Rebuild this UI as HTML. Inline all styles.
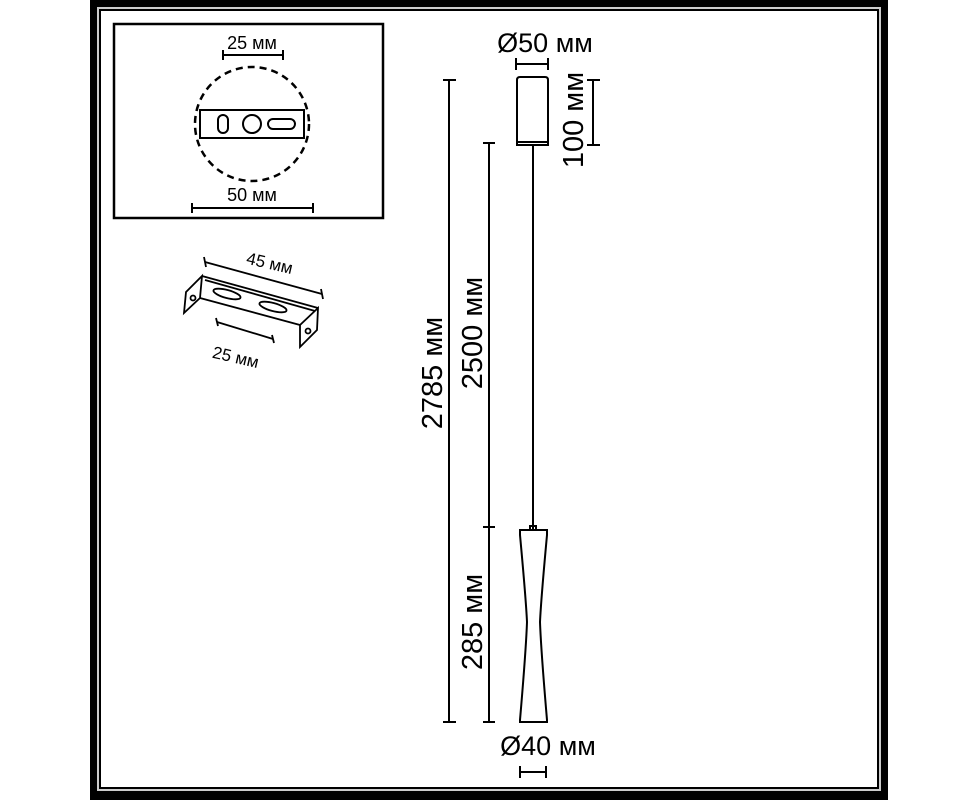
<!DOCTYPE html>
<html><head><meta charset="utf-8"><style>
html,body{margin:0;padding:0;background:#fff;}
svg{display:block}
text{font-family:"Liberation Sans","DejaVu Sans",sans-serif;fill:#000}
</style></head><body>
<svg width="978" height="800" viewBox="0 0 978 800" xmlns="http://www.w3.org/2000/svg">
<rect x="0" y="0" width="978" height="800" fill="#fff"/>
<rect x="90" y="0" width="798" height="800" fill="#000"/>
<rect x="97" y="7" width="784" height="784" fill="#ccc"/>
<rect x="99" y="9" width="780" height="780" fill="#000"/>
<rect x="101" y="11" width="776" height="776" fill="#fff"/>

<g stroke="#000" fill="none" stroke-width="2">
<rect x="114" y="24" width="269" height="194" stroke-width="2.5"/>
<line x1="223" y1="55" x2="283" y2="55"/><line x1="223" y1="50" x2="223" y2="60"/><line x1="283" y1="50" x2="283" y2="60"/>
<circle cx="252" cy="124" r="57" stroke-dasharray="7,5" stroke-width="2.5"/>
<rect x="200" y="110" width="104" height="28" fill="#fff"/>
<rect x="218" y="115" width="10" height="18" rx="5"/>
<circle cx="252" cy="124" r="9"/>
<rect x="268" y="119" width="27" height="10" rx="5"/>
<line x1="192" y1="208" x2="313" y2="208"/><line x1="192" y1="203" x2="192" y2="213"/><line x1="313" y1="203" x2="313" y2="213"/>

<g stroke-width="1.8">
<line x1="205" y1="262" x2="322" y2="294"/><line x1="204" y1="257" x2="206" y2="267"/><line x1="321" y1="289" x2="323" y2="299"/>
<polygon points="202,276 186,292 184,313 200,298"/>
<line x1="202" y1="276" x2="318" y2="308"/>
<line x1="205" y1="280" x2="315" y2="311"/>
<line x1="200" y1="298" x2="300" y2="325"/>
<polygon points="318,308 317,330 300,347 300,325"/>
<ellipse cx="227" cy="294" rx="14" ry="4" transform="rotate(15 227 294)"/>
<ellipse cx="273" cy="307" rx="14" ry="4" transform="rotate(15 273 307)"/>
<circle cx="193" cy="298" r="2.5"/>
<circle cx="308" cy="331" r="2.5"/>
<line x1="217" y1="322" x2="273" y2="339"/><line x1="216" y1="318" x2="218" y2="326"/><line x1="272" y1="335" x2="274" y2="343"/>
</g>

<line x1="516" y1="64" x2="548" y2="64"/><line x1="516" y1="58" x2="516" y2="70"/><line x1="548" y1="58" x2="548" y2="70"/>
<path d="M517,80 Q517,77 520,77 L545,77 Q548,77 548,80 L548,145 L517,145 Z"/>
<line x1="517" y1="142" x2="548" y2="142"/>
<line x1="533" y1="145" x2="533" y2="530"/>
<line x1="593" y1="80" x2="593" y2="145"/><line x1="587" y1="80" x2="600" y2="80"/><line x1="587" y1="145" x2="600" y2="145"/>
<line x1="449" y1="80" x2="449" y2="722"/><line x1="443" y1="80" x2="456" y2="80"/><line x1="443" y1="722" x2="456" y2="722"/>
<line x1="489" y1="143" x2="489" y2="722"/><line x1="483" y1="143" x2="495" y2="143"/><line x1="483" y1="527" x2="495" y2="527"/><line x1="483" y1="722" x2="495" y2="722"/>
<path d="M520,530 L547,530 L547,535 Q541,600 540,622 Q541,650 547,720 L547,722 L520,722 L520,720 Q526,650 527,622 Q526,600 520,535 Z"/>
<rect x="530" y="526" width="6" height="4"/>
<line x1="520" y1="772" x2="546" y2="772"/><line x1="520" y1="766" x2="520" y2="778"/><line x1="546" y1="766" x2="546" y2="778"/>
</g>

<text x="252" y="49" font-size="18" text-anchor="middle">25 мм</text>
<text x="252" y="201" font-size="18" text-anchor="middle">50 мм</text>
<text x="270" y="269" font-size="17" text-anchor="middle" transform="rotate(13 270 262)">45 мм</text>
<text x="236" y="363" font-size="17" text-anchor="middle" transform="rotate(13 236 356)">25 мм</text>
<text x="545" y="52" font-size="27" text-anchor="middle">Ø50 мм</text>
<text x="0" y="0" font-size="29" text-anchor="middle" transform="translate(583,120) rotate(-90)">100 мм</text>
<text x="0" y="0" font-size="29" text-anchor="middle" transform="translate(442,373) rotate(-90)">2785 мм</text>
<text x="0" y="0" font-size="29" text-anchor="middle" transform="translate(482,333) rotate(-90)">2500 мм</text>
<text x="0" y="0" font-size="29" text-anchor="middle" transform="translate(482,622) rotate(-90)">285 мм</text>
<text x="548" y="755" font-size="27" text-anchor="middle">Ø40 мм</text>
</svg>
</body></html>
